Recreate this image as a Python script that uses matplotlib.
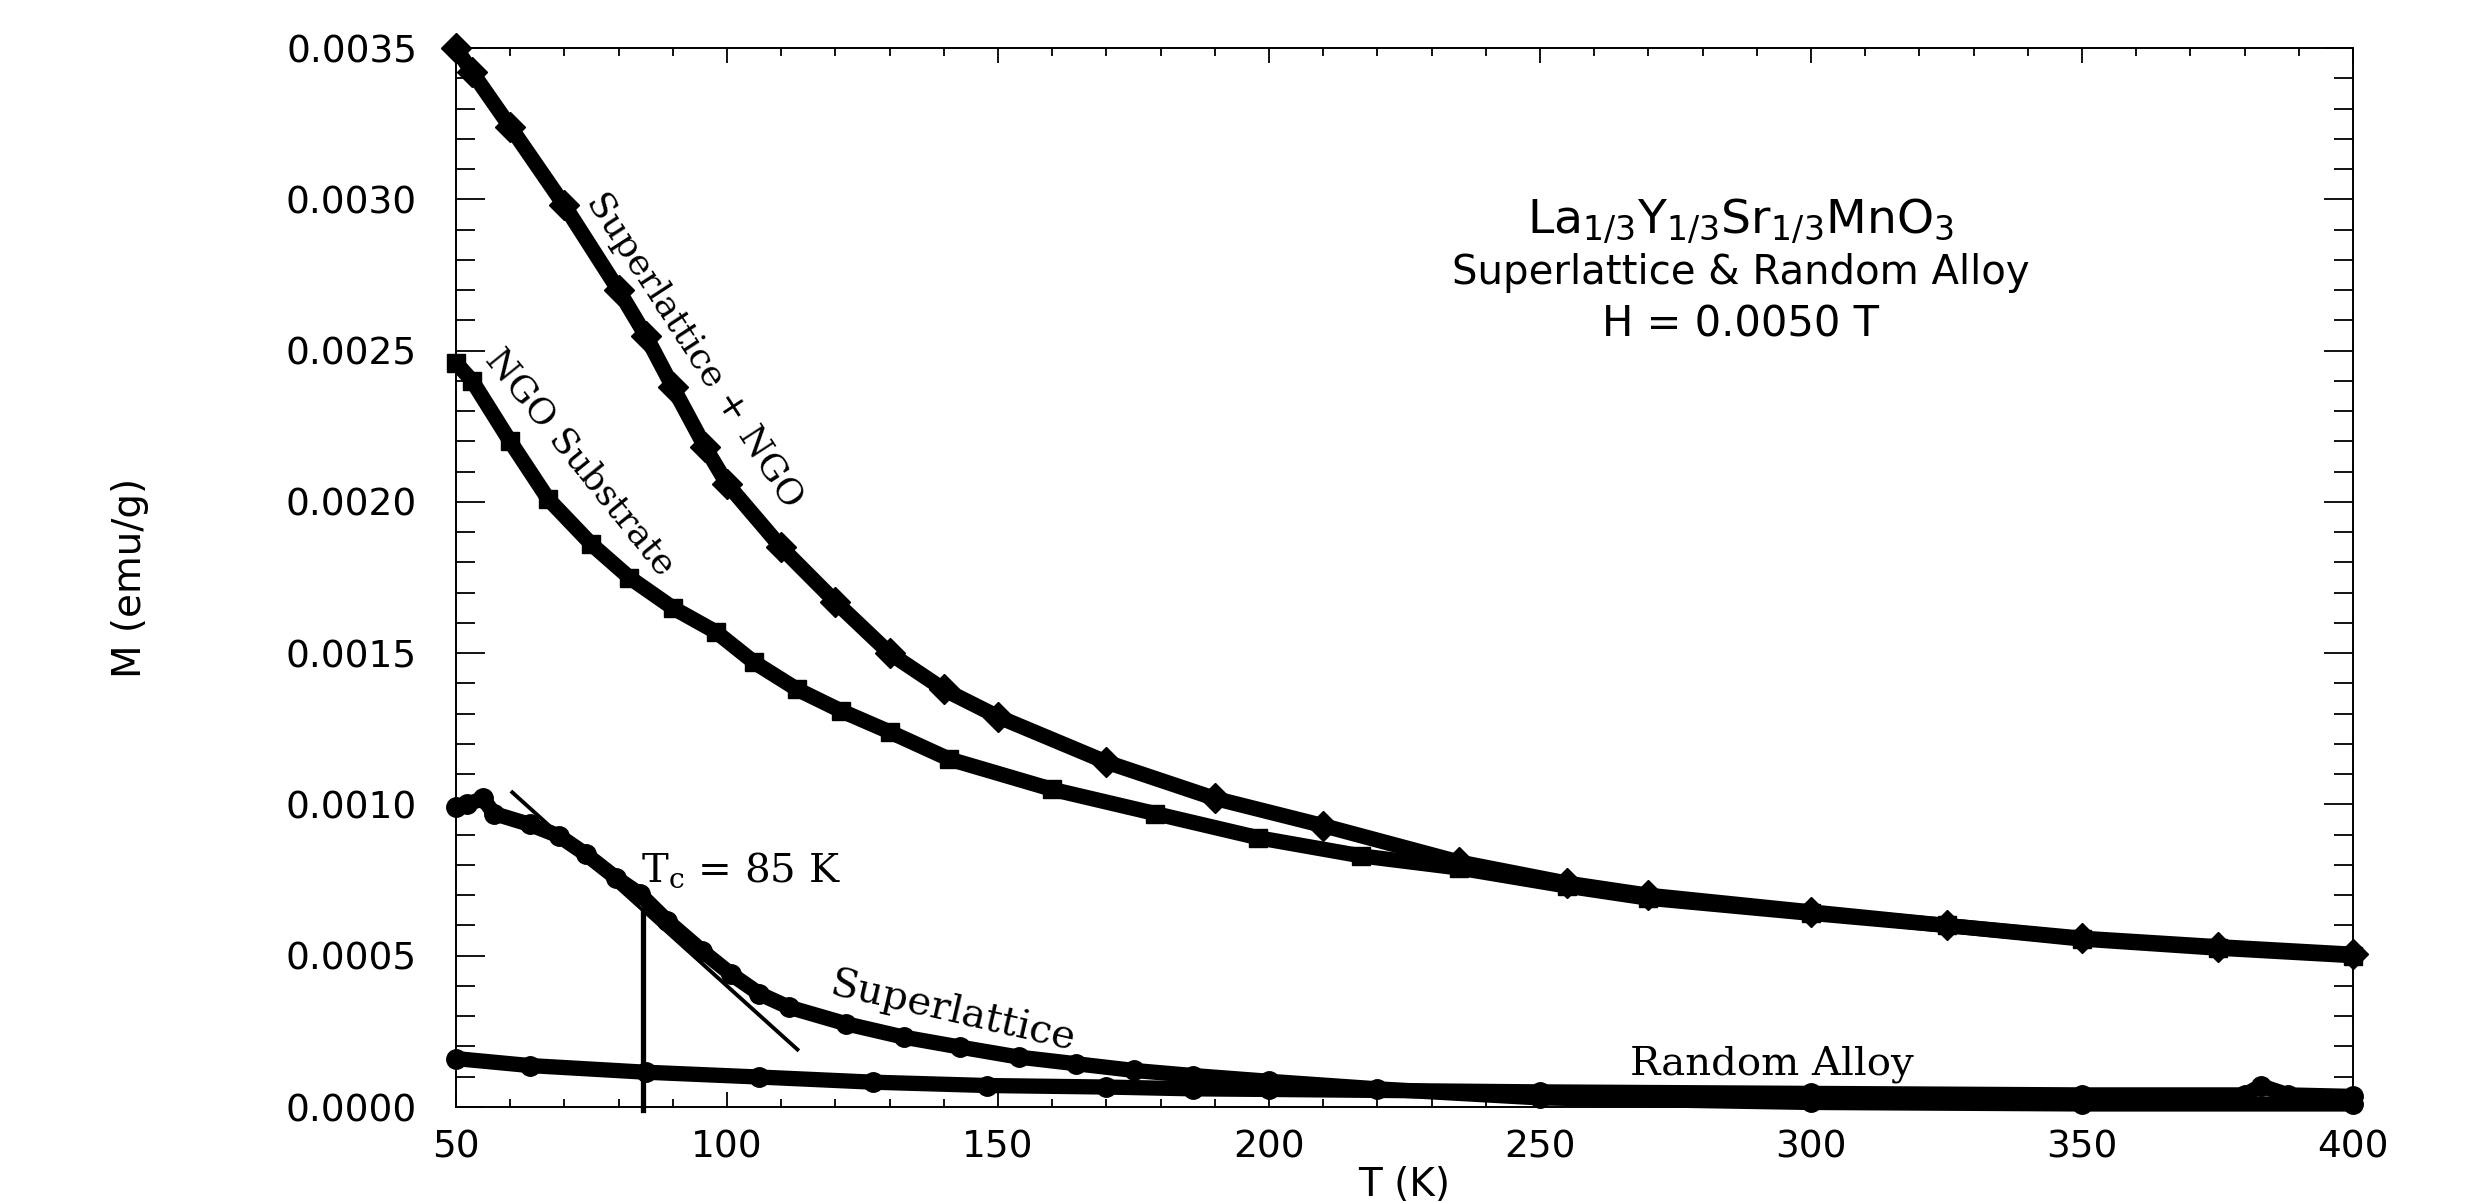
import matplotlib
matplotlib.use("Agg")
import matplotlib.pyplot as plt
from matplotlib.ticker import MultipleLocator, FormatStrFormatter

# ---------------- data ----------------
T_sl_ngo = [50, 53, 60, 70, 80, 85, 90, 96, 100, 110, 120, 130, 140, 150, 170,
            190, 210, 235, 255, 270, 300, 325, 350, 375, 400]
M_sl_ngo = [0.00350, 0.00342, 0.00324, 0.00298, 0.00270, 0.00255, 0.00238, 0.00218,
            0.00206, 0.00185, 0.00167, 0.00150, 0.00138, 0.00129, 0.00114, 0.00102,
            0.00093, 0.00081, 0.00074, 0.00070, 0.000645, 0.000600, 0.000558,
            0.000530, 0.000505]

T_ngo = [50, 53, 60, 67, 75, 82, 90, 98, 105, 113, 121, 130, 141, 160, 179, 198,
         217, 235, 255, 270, 300, 325, 350, 375, 400]
M_ngo = [0.00246, 0.00240, 0.00220, 0.00201, 0.00186, 0.00175, 0.00165, 0.00157,
         0.00147, 0.00138, 0.00131, 0.00124, 0.00115, 0.00105, 0.00097, 0.00089,
         0.00083, 0.00079, 0.00073, 0.00069, 0.00064, 0.00060, 0.000555, 0.000525,
         0.000500]

T_sl = [50, 52, 55, 57, 63.6, 69, 74, 79.5, 84, 89, 95.4, 100.7, 106, 111.4, 122,
        132.6, 143, 153.8, 164.4, 175, 186, 200, 220, 250, 300, 350, 400]
M_sl = [0.00099, 0.00100, 0.00102, 0.00097, 0.000934, 0.000896, 0.000835, 0.000758,
        0.000703, 0.000615, 0.000516, 0.000440, 0.000374, 0.000330, 0.000275,
        0.000231, 0.000198, 0.000165, 0.000143, 0.000121, 0.000104, 0.000085,
        0.000060, 0.000030, 0.000015, 0.000010, 0.000010]

T_ra = [50, 63.6, 85, 106, 127, 148, 170, 186, 200, 250, 300, 350, 380, 383, 388, 400]
M_ra = [0.000160, 0.000137, 0.000115, 0.000099, 0.000082, 0.000071, 0.000066,
        0.000060, 0.000058, 0.000050, 0.000045, 0.000040, 0.000040, 0.000070,
        0.000040, 0.000035]

tangent_T = [60.4, 113]
tangent_M = [0.00104, 0.00019]
Tc = 84.5
Tc_line_M = [-0.00001, 0.00065]

x_ticks = [50, 100, 150, 200, 250, 300, 350, 400]
y_ticks = [0.0000, 0.0005, 0.0010, 0.0015, 0.0020, 0.0025, 0.0030, 0.0035]

# ---------------- figure ----------------
plt.rcParams['font.family'] = ['DejaVu Sans']
plt.rcParams['mathtext.default'] = 'regular'

fig = plt.figure(figsize=(24.78, 12.03), dpi=100)
ax = fig.add_axes([0.184, 0.0798, 0.7656, 0.8802])

band_lw = 11
ax.plot(T_sl_ngo, M_sl_ngo, color='black', lw=band_lw, marker='D', ms=15,
        solid_capstyle='round', solid_joinstyle='round', clip_on=False, zorder=3)
ax.plot(T_ngo, M_ngo, color='black', lw=band_lw, marker='s', ms=13,
        solid_capstyle='round', solid_joinstyle='round', clip_on=False, zorder=3)
ax.plot(T_sl, M_sl, color='black', lw=band_lw, marker='o', ms=14,
        solid_capstyle='round', solid_joinstyle='round', clip_on=False, zorder=3)
ax.plot(T_ra, M_ra, color='black', lw=band_lw, marker='o', ms=14,
        solid_capstyle='round', solid_joinstyle='round', clip_on=False, zorder=3)

ax.plot(tangent_T, tangent_M, color='black', lw=2.8, zorder=4)
ax.plot([Tc, Tc], Tc_line_M, color='black', lw=3.8, zorder=4, clip_on=False)

ax.set_xlim(50, 400)
ax.set_ylim(0, 0.0035)
ax.set_xticks(x_ticks)
ax.set_yticks(y_ticks)
ax.xaxis.set_minor_locator(MultipleLocator(10))
ax.yaxis.set_minor_locator(MultipleLocator(0.0001))
ax.yaxis.set_major_formatter(FormatStrFormatter('%.4f'))

for s in ax.spines.values():
    s.set_linewidth(1.4)

ax.tick_params(axis='both', which='both', direction='in', top=True, right=True,
               width=1.3, labelsize=27)
ax.tick_params(axis='x', which='major', length=11, pad=16)
ax.tick_params(axis='x', which='minor', length=6)
ax.tick_params(axis='y', which='major', length=21, pad=28)
ax.tick_params(axis='y', which='minor', length=13.5)

ax.set_xlabel('T (K)', fontsize=28)
ax.xaxis.set_label_coords(0.5, -0.0737)
ax.xaxis.label.set_va('center')
ax.set_ylabel('M (emu/g)', fontsize=28)
ax.yaxis.set_label_coords(-0.172, 0.5)
ax.yaxis.label.set_va('center')

# title block
ax.text(287, 0.002888,
        r'La$_\mathregular{1/3}$Y$_\mathregular{1/3}$Sr$_\mathregular{1/3}$MnO$_\mathregular{3}$',
        fontsize=34, ha='center', va='baseline', math_fontfamily='dejavusans')
ax.text(287, 0.00272, 'Superlattice & Random Alloy', fontsize=29,
        ha='center', va='baseline')
ax.text(287, 0.002548, 'H = 0.0050 T', fontsize=30, ha='center', va='baseline')

# curve annotations (serif)
serif = ['DejaVu Serif']
ax.text(94.0, 0.002500, 'Superlattice + NGO', fontsize=26, family=serif,
        rotation=-57, rotation_mode='anchor', ha='center', va='center')
ax.text(73.0, 0.002130, 'NGO Substrate', fontsize=26, family=serif,
        rotation=-51, rotation_mode='anchor', ha='center', va='center')
ax.text(141.7, 0.000314, 'Superlattice', fontsize=29, family=serif,
        rotation=-13, rotation_mode='anchor', ha='center', va='center')
ax.text(292.8, 0.000109, 'Random Alloy', fontsize=29, family=serif,
        ha='center', va='baseline')
ax.text(84.1, 0.000743, r'T$_\mathrm{c}$ = 85 K', fontsize=29, family=serif,
        ha='left', va='baseline', math_fontfamily='dejavuserif')

fig.savefig('out.png', dpi=100)
